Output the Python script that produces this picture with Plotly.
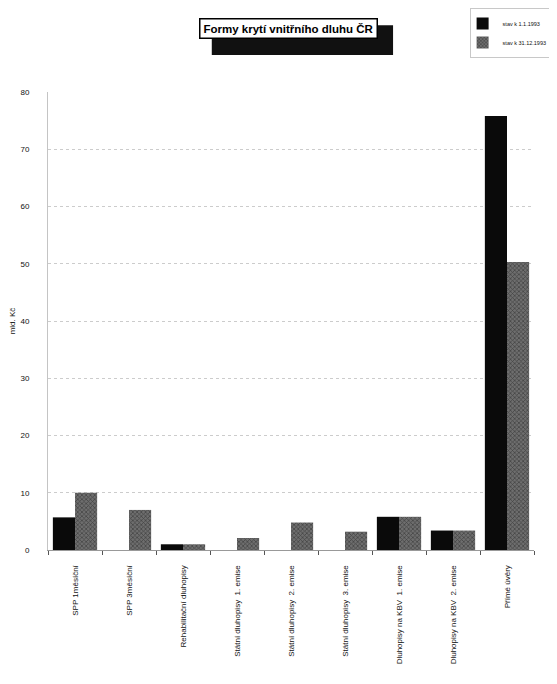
import plotly.graph_objects as go

categories = ["SPP 1měsíční", "SPP 3měsíční", "Rehabilitační dluhopisy",
              "Státní dluhopisy  1. emise", "Státní dluhopisy  2. emise",
              "Státní dluhopisy  3. emise", "Dluhopisy na KBV  1. emise",
              "Dluhopisy na KBV  2. emise", "Přímé úvěry"]
stav_1993_01 = [5.7, 0, 1.0, 0, 0, 0, 5.8, 3.4, 75.8]
stav_1993_12 = [10.0, 7.0, 1.0, 2.1, 4.8, 3.2, 5.8, 3.4, 50.3]
series_names = ["stav k 1.1.1993", "stav k 31.12.1993"]
y_ticks = [0, 10, 20, 30, 40, 50, 60, 70, 80]

fig = go.Figure()
fig.add_trace(go.Bar(x=categories, y=stav_1993_01, name=series_names[0],
                     marker=dict(color="#0a0a0a", line=dict(width=0))))
fig.add_trace(go.Bar(x=categories, y=stav_1993_12, name=series_names[1],
                     marker=dict(color="#4a4a4a", line=dict(width=0),
                                 pattern=dict(shape="x", size=3, solidity=0.4,
                                              fgcolor="#111111", bgcolor="#6e6e6e"))))

# page has an 8px body margin, so the figure is 549x676
fig.update_layout(
    width=549, height=676,
    margin=dict(l=40, r=23, t=84, b=134, autoexpand=False),
    paper_bgcolor="white", plot_bgcolor="white",
    barmode="group", bargap=0.18, bargroupgap=0,
    font=dict(family="Liberation Sans, Arial", size=8, color="#111"),
    showlegend=True,
    legend=dict(xref="container", yref="container", x=0.992, y=1.0,
                xanchor="right", yanchor="top",
                bgcolor="white", bordercolor="#c8c8c8", borderwidth=1,
                font=dict(size=5.5), itemwidth=30, tracegroupgap=0,
                indentation=-8),
    xaxis=dict(tickangle=-90, tickfont=dict(size=8), ticks="outside",
               tickson="boundaries", ticklen=4, tickcolor="#555",
               ticklabelstandoff=11,
               showline=True, linecolor="#999", showgrid=False, automargin=False),
    yaxis=dict(range=[0, 80], tickvals=y_ticks, tickfont=dict(size=8),
               showgrid=True, gridcolor="#cccccc", griddash="dot", gridwidth=1,
               zeroline=False, showline=True, linecolor="#c4c4c4",
               ticklabelstandoff=16, automargin=False,
               title=dict(text="mld. Kč", font=dict(size=8), standoff=4)),
    shapes=[dict(type="rect", xref="paper", yref="paper",
                 x0=0.337, x1=0.710, y0=1.081, y1=1.146,
                 fillcolor="#111", line=dict(width=0), layer="above")],
    annotations=[dict(text="<b>Formy krytí vnitřního dluhu ČR</b>",
                      xref="paper", yref="paper", x=0.494, y=1.138,
                      xanchor="center", yanchor="middle",
                      showarrow=False, font=dict(size=11.5, color="black"),
                      bgcolor="white", bordercolor="black", borderwidth=1.5,
                      borderpad=3)],
)

fig.write_html("out.html")
